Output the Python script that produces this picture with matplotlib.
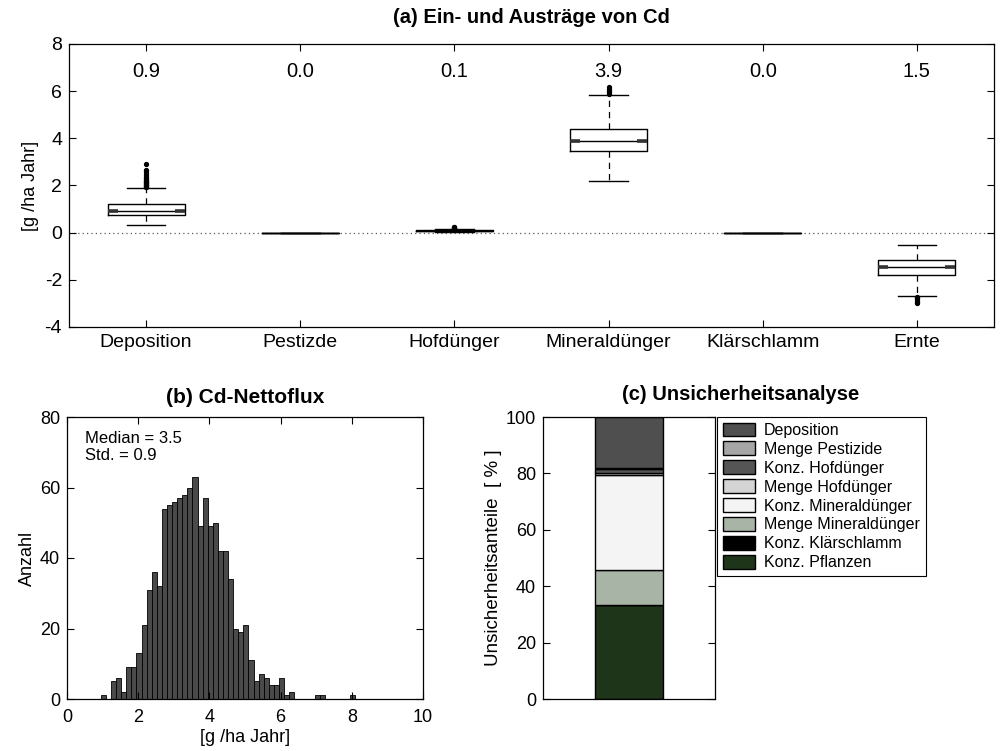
import matplotlib
matplotlib.use('Agg')
import matplotlib.pyplot as plt
import numpy as np

plt.rcParams['font.family'] = ['Liberation Sans', 'DejaVu Sans']
plt.rcParams['axes.linewidth'] = 0.9
plt.rcParams['axes.unicode_minus'] = False

# ---------------- data (a) ----------------
categories = ['Deposition', 'Pestizde', 'Hofdünger', 'Mineraldünger', 'Klärschlamm', 'Ernte']
median_labels = ['0.9', '0.0', '0.1', '3.9', '0.0', '1.5']
q1 = [0.75, 0.0, 0.07, 3.45, 0.0, -1.79]
med = [0.93, 0.0, 0.08, 3.90, 0.0, -1.44]
q3 = [1.23, 0.0, 0.10, 4.41, 0.0, -1.14]
whislo = [0.34, 0.0, 0.03, 2.20, 0.0, -2.70]
whishi = [1.89, 0.0, 0.14, 5.82, 0.0, -0.54]
fliers = [
    [1.92, 1.95, 1.98, 2.01, 2.04, 2.07, 2.10, 2.13, 2.16, 2.20, 2.24, 2.28, 2.33, 2.38, 2.44, 2.52, 2.60, 2.67, 2.92],
    [],
    [0.15, 0.17, 0.19, 0.21, 0.23, 0.25],
    [5.88, 5.95, 6.02, 6.08, 6.17],
    [],
    [-2.74, -2.78, -2.83, -2.88, -2.93, -3.00],
]

# ---------------- data (b) ----------------
hist_edges = np.linspace(0.95, 8.10, 51)
hist_counts = [1, 0, 5, 6, 2, 9, 9, 13, 21, 31, 36, 32, 54, 55, 56, 57, 58, 60, 63, 49,
               57, 49, 50, 42, 42, 34, 20, 19, 21, 11, 5, 7, 6, 4, 4, 6, 1, 2, 0, 0,
               0, 0, 1, 1, 0, 0, 0, 0, 0, 1]
median_text = 'Median = 3.5'
std_text = 'Std. = 0.9'

# ---------------- data (c) ----------------
unc_labels = ['Deposition', 'Menge Pestizide', 'Konz. Hofdünger', 'Menge Hofdünger',
              'Konz. Mineraldünger', 'Menge Mineraldünger', 'Konz. Klärschlamm', 'Konz. Pflanzen']
unc_values = [18.0, 0.3, 1.7, 0.5, 33.8, 12.5, 0.0, 33.2]
unc_colors = ['#4f4f4f', '#a6a6a6', '#555555', '#d4d4d4', '#f4f4f4', '#a8b4a6', '#000000', '#1f3519']

W, H = 1002, 751
fig = plt.figure(figsize=(W / 100, H / 100), dpi=100)

def fa(l, t, r, b):
    return [l / W, 1 - b / H, (r - l) / W, (b - t) / H]

# ---------------- (a) boxplots ----------------
ax1 = fig.add_axes(fa(69, 44, 994, 327))
positions = np.arange(1, len(categories) + 1)
stats = []
for i in range(len(categories)):
    stats.append(dict(med=med[i], q1=q1[i], q3=q3[i], whislo=whislo[i], whishi=whishi[i],
                      fliers=np.array(fliers[i]), label=categories[i]))
ax1.axhline(0, color='0.35', lw=0.9, ls=(0, (1, 2.5)), zorder=0)
ax1.bxp(stats, positions=positions, widths=0.5, capwidths=0.25, showcaps=True,
        boxprops=dict(color='black', lw=1.0),
        whiskerprops=dict(color='black', lw=0.9, ls=(0, (5, 4))),
        capprops=dict(color='black', lw=1.0),
        medianprops=dict(color='black', lw=1.0),
        flierprops=dict(marker='o', markersize=2.8, markerfacecolor='black',
                        markeredgecolor='black'))
# notch marks at the median
for i, p in enumerate(positions):
    if q3[i] > q1[i] + 0.1:
        for side in (-1, 1):
            x0 = p + side * 0.25
            ax1.plot([x0, x0 - side * 0.065], [med[i], med[i]], color='#333333', lw=2.6,
                     solid_capstyle='butt', zorder=3)
for p, lab in zip(positions, median_labels):
    ax1.text(p, 6.85, lab, ha='center', va='center', fontsize=14.5)
ax1.set_xlim(0.5, 6.5)
ax1.set_ylim(-4, 8)
ax1.set_yticks([-4, -2, 0, 2, 4, 6, 8])
ax1.set_xticks(positions)
ax1.set_xticklabels(categories)
ax1.tick_params(direction='in', top=True, right=True, length=5, labelsize=14, pad=5)
ax1.set_ylabel('[g /ha Jahr]', fontsize=13, labelpad=4)
ax1.set_title('(a) Ein- und Austräge von Cd', fontsize=14.5, fontweight='bold', pad=15)

# ---------------- (b) histogram ----------------
ax2 = fig.add_axes(fa(67, 417, 423, 699))
ax2.hist(hist_edges[:-1], bins=hist_edges, weights=hist_counts, color='#4a4a4a',
         edgecolor='black', lw=0.6)
ax2.set_xlim(0, 10)
ax2.set_ylim(0, 80)
ax2.set_xticks([0, 2, 4, 6, 8, 10])
ax2.set_yticks([0, 20, 40, 60, 80])
ax2.tick_params(direction='in', top=True, right=True, length=5, labelsize=13, pad=5)
ax2.tick_params(axis='x', pad=7)
ax2.set_xlabel('[g /ha Jahr]', fontsize=13, labelpad=2)
ax2.set_ylabel('Anzahl', fontsize=13, labelpad=3)
ax2.set_title('(b) Cd-Nettoflux', fontsize=15, fontweight='bold', pad=10)
ax2.text(0.05, 0.95, median_text + '\n' + std_text, transform=ax2.transAxes,
         ha='left', va='top', fontsize=12, linespacing=1.15)

# ---------------- (c) stacked bar ----------------
ax3 = fig.add_axes(fa(543, 417, 715, 699))
bottom = 0.0
handles = {}
for lab, val, col in reversed(list(zip(unc_labels, unc_values, unc_colors))):
    b = ax3.bar(1, val, 0.8, bottom=bottom, color=col, edgecolor='black', lw=1.0)
    handles[lab] = b
    bottom += val
ax3.set_xlim(0, 2)
ax3.set_ylim(0, 100)
ax3.set_xticks([])
ax3.set_yticks([0, 20, 40, 60, 80, 100])
ax3.tick_params(direction='in', right=True, length=5, labelsize=13, pad=5)
ax3.set_ylabel('Unsicherheitsanteile  [ % ]', fontsize=13.5, labelpad=3)
fig.text(741 / W, 1 - 395 / H, '(c) Unsicherheitsanalyse', ha='center', va='center',
         fontsize=14.5, fontweight='bold')

leg = fig.legend([handles[l] for l in unc_labels], unc_labels, loc='upper left',
                 bbox_to_anchor=(717 / W, 1 - 417 / H), frameon=True, fancybox=False,
                 edgecolor='black', framealpha=1, fontsize=11.5, handlelength=2.0,
                 handleheight=0.95, labelspacing=0.22, borderpad=0.35, handletextpad=0.6,
                 borderaxespad=0)
leg.get_frame().set_linewidth(0.8)

fig.savefig('out.png', dpi=100)
